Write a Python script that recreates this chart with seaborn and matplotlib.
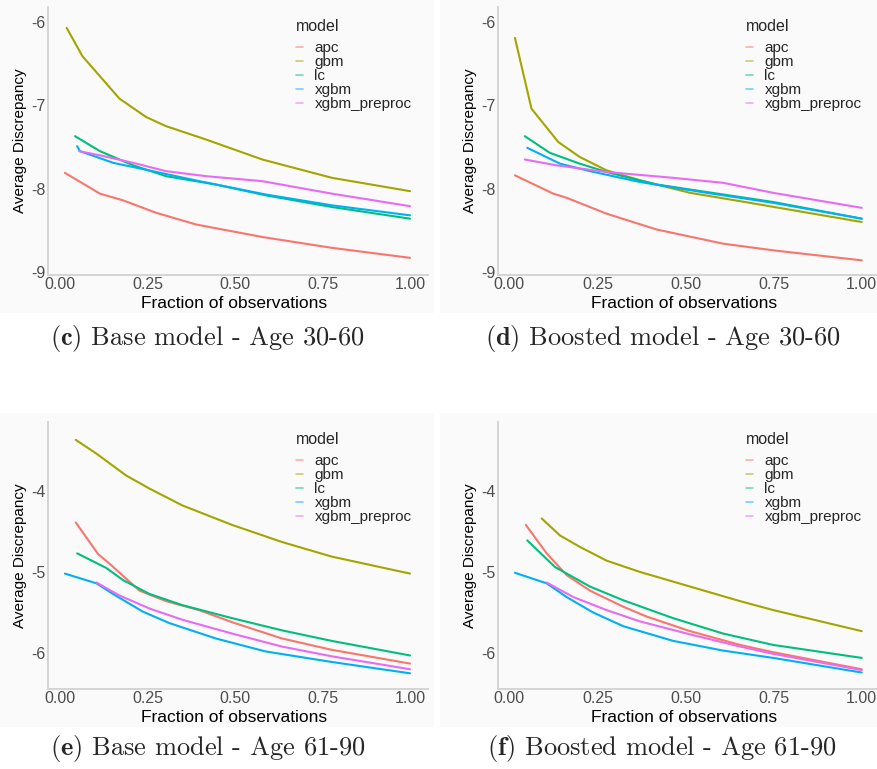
import matplotlib
matplotlib.use("Agg")
import matplotlib.pyplot as plt
from matplotlib.patches import Rectangle
import pandas as pd
import seaborn as sns

# ---------------- data ----------------
MODELS = ["apc", "gbm", "lc", "xgbm", "xgbm_preproc"]
COLORS = ["#F8766D", "#A3A500", "#00BF7D", "#00B0F6", "#E76BF3"]
X_TICKS = [0.0, 0.25, 0.5, 0.75, 1.0]
X_TICK_LABELS = ["0.00", "0.25", "0.50", "0.75", "1.00"]
Y_TICKS_30_60 = [-9, -8, -7, -6]
Y_TICKS_61_90 = [-6, -5, -4]
CAPTION_TAGS = ["c", "d", "e", "f"]
CAPTION_TEXTS = ["Base model - Age 30-60", "Boosted model - Age 30-60",
                 "Base model - Age 61-90", "Boosted model - Age 61-90"]
X_LABEL = "Fraction of observations"
Y_LABEL = "Average Discrepancy"
LEGEND_TITLE = "model"

# (c) Base model - Age 30-60
C_X = {
    "apc": [0.014, 0.114, 0.18, 0.275, 0.389, 0.578, 0.777, 1.0],
    "gbm": [0.019, 0.064, 0.17, 0.246, 0.303, 0.417, 0.578, 0.777, 1.0],
    "lc": [0.043, 0.114, 0.209, 0.303, 0.445, 0.588, 0.777, 1.0],
    "xgbm": [0.049, 0.057, 0.152, 0.265, 0.398, 0.588, 0.777, 1.0],
    "xgbm_preproc": [0.055, 0.114, 0.209, 0.303, 0.417, 0.578, 0.777, 1.0],
}
C_Y = {
    "apc": [-7.81, -8.06, -8.14, -8.29, -8.43, -8.58, -8.71, -8.83],
    "gbm": [-6.07, -6.41, -6.92, -7.14, -7.25, -7.41, -7.65, -7.87, -8.03],
    "lc": [-7.37, -7.55, -7.72, -7.85, -7.95, -8.08, -8.22, -8.36],
    "xgbm": [-7.49, -7.55, -7.69, -7.79, -7.91, -8.07, -8.20, -8.32],
    "xgbm_preproc": [-7.55, -7.60, -7.69, -7.79, -7.85, -7.91, -8.06, -8.21],
}

# (d) Boosted model - Age 30-60
D_X = {
    "apc": [0.016, 0.125, 0.163, 0.276, 0.418, 0.607, 0.749, 1.0],
    "gbm": [0.016, 0.063, 0.139, 0.2, 0.276, 0.371, 0.513, 0.655, 1.0],
    "lc": [0.044, 0.115, 0.2, 0.276, 0.418, 0.607, 0.749, 1.0],
    "xgbm": [0.051, 0.144, 0.229, 0.371, 0.56, 0.749, 1.0],
    "xgbm_preproc": [0.044, 0.134, 0.276, 0.465, 0.607, 0.749, 1.0],
}
D_Y = {
    "apc": [-7.84, -8.06, -8.11, -8.30, -8.49, -8.66, -8.74, -8.86],
    "gbm": [-6.19, -7.04, -7.44, -7.62, -7.78, -7.90, -8.05, -8.15, -8.40],
    "lc": [-7.37, -7.57, -7.70, -7.80, -7.95, -8.07, -8.16, -8.36],
    "xgbm": [-7.51, -7.70, -7.79, -7.92, -8.05, -8.17, -8.36],
    "xgbm_preproc": [-7.65, -7.72, -7.80, -7.87, -7.93, -8.05, -8.23],
}

# (e) Base model - Age 61-90
E_X = {
    "apc": [0.045, 0.109, 0.142, 0.227, 0.303, 0.397, 0.492, 0.634, 0.776, 1.0],
    "gbm": [0.045, 0.104, 0.189, 0.255, 0.35, 0.492, 0.634, 0.776, 1.0],
    "lc": [0.049, 0.132, 0.18, 0.255, 0.35, 0.492, 0.634, 0.776, 1.0],
    "xgbm": [0.014, 0.104, 0.151, 0.237, 0.312, 0.445, 0.587, 0.776, 1.0],
    "xgbm_preproc": [0.104, 0.17, 0.255, 0.35, 0.492, 0.634, 0.776, 1.0],
}
E_Y = {
    "apc": [-4.39, -4.78, -4.90, -5.23, -5.36, -5.47, -5.62, -5.82, -5.96, -6.13],
    "gbm": [-3.37, -3.54, -3.81, -3.97, -4.18, -4.42, -4.63, -4.81, -5.02],
    "lc": [-4.77, -4.95, -5.10, -5.27, -5.41, -5.57, -5.72, -5.85, -6.03],
    "xgbm": [-5.02, -5.14, -5.27, -5.49, -5.63, -5.82, -5.98, -6.11, -6.25],
    "xgbm_preproc": [-5.13, -5.29, -5.45, -5.59, -5.76, -5.92, -6.04, -6.20],
}

# (f) Boosted model - Age 61-90
F_X = {
    "apc": [0.047, 0.106, 0.163, 0.229, 0.324, 0.39, 0.513, 0.655, 0.749, 1.0],
    "gbm": [0.092, 0.144, 0.2, 0.276, 0.371, 0.513, 0.655, 0.749, 1.0],
    "lc": [0.051, 0.13, 0.229, 0.324, 0.465, 0.607, 0.749, 1.0],
    "xgbm": [0.016, 0.106, 0.163, 0.238, 0.324, 0.465, 0.607, 0.749, 1.0],
    "xgbm_preproc": [0.106, 0.182, 0.276, 0.371, 0.513, 0.655, 0.749, 1.0],
}
F_Y = {
    "apc": [-4.42, -4.77, -5.04, -5.23, -5.43, -5.55, -5.73, -5.90, -5.99, -6.20],
    "gbm": [-4.34, -4.55, -4.69, -4.86, -5.00, -5.18, -5.36, -5.47, -5.73],
    "lc": [-4.61, -4.94, -5.18, -5.35, -5.57, -5.76, -5.90, -6.06],
    "xgbm": [-5.01, -5.14, -5.31, -5.50, -5.67, -5.85, -5.97, -6.06, -6.24],
    "xgbm_preproc": [-5.13, -5.31, -5.47, -5.61, -5.77, -5.92, -6.01, -6.21],
}

# ---------------- style ----------------
sns.set_theme(style="white")
plt.rcParams["font.family"] = ["Liberation Sans", "DejaVu Sans"]
plt.rcParams["axes.unicode_minus"] = False
plt.rcParams["mathtext.fontset"] = "cm"

W, H = 877, 769
fig = plt.figure(figsize=(W / 100, H / 100), dpi=100)
fig.patch.set_facecolor("white")

PANEL_BG = "#FAFAFA"
AXIS_COL = "#D4D4D4"
TICK_COL = "#4D4D4D"
palette = dict(zip(MODELS, COLORS))


def long_frame(xd, yd):
    rows = []
    for m in MODELS:
        for x, y in zip(xd[m], yd[m]):
            rows.append({"x": x, "y": y, "model": m})
    return pd.DataFrame(rows)


def px_axes(left, top, right, bottom):
    return fig.add_axes([left / W, 1 - bottom / H, (right - left) / W, (bottom - top) / H])


panels = [
    # data, axes box (px), bg box (px), xlim, ylim, yticks, legend anchor px, caption pos px
    (C_X, C_Y, (48, 7, 428, 275), (0, 0, 434, 313), (-0.0343, 1.0514), (-9.036, -5.82),
     Y_TICKS_30_60, (296, 19), (50, 338)),
    (D_X, D_Y, (498, 7, 877, 275), (440, 0, 877, 313), (-0.032, 1.0434), (-9.036, -5.82),
     Y_TICKS_30_60, (746, 19), (485, 338)),
    (E_X, E_Y, (48, 422, 428, 689), (0, 413, 434, 727), (-0.0343, 1.0514), (-6.4436, -3.150),
     Y_TICKS_61_90, (296, 432), (50, 748)),
    (F_X, F_Y, (498, 422, 877, 689), (440, 413, 877, 727), (-0.032, 1.0434), (-6.4436, -3.150),
     Y_TICKS_61_90, (746, 432), (487, 748)),
]

for i, (xd, yd, box, bg, xlim, ylim, yticks, leg, cap) in enumerate(panels):
    fig.add_artist(Rectangle((bg[0] / W, 1 - bg[3] / H), (bg[2] - bg[0]) / W, (bg[3] - bg[1]) / H,
                             transform=fig.transFigure, facecolor=PANEL_BG, edgecolor="none",
                             zorder=-5))
    ax = px_axes(*box)
    ax.set_facecolor(PANEL_BG)
    df = long_frame(xd, yd)
    sns.lineplot(data=df, x="x", y="y", hue="model", hue_order=MODELS, palette=palette,
                 estimator=None, sort=True, linewidth=1.5, ax=ax)
    ax.set_xlim(*xlim)
    ax.set_ylim(*ylim)
    ax.set_xticks(X_TICKS)
    ax.set_xticklabels(X_TICK_LABELS)
    ax.set_yticks(yticks)
    ax.set_yticklabels([str(t) for t in yticks])
    ax.tick_params(axis="both", length=0, labelsize=11.5, colors=TICK_COL, pad=1.5)
    for s in ["top", "right"]:
        ax.spines[s].set_visible(False)
    for s in ["left", "bottom"]:
        ax.spines[s].set_color(AXIS_COL)
        ax.spines[s].set_linewidth(1.4)
    axw = box[2] - box[0]
    axh = box[3] - box[1]
    ax.set_xlabel(X_LABEL, fontsize=12.5, color="black")
    ax.set_ylabel(Y_LABEL, fontsize=11, color="black")
    ax.xaxis.set_label_coords(0.49, -(296 - 275) / axh)
    ax.yaxis.set_label_coords(-21 / axw, 0.5)

    handles, labels = ax.get_legend_handles_labels()
    lg = ax.legend(handles, labels, title=LEGEND_TITLE, loc="upper left",
                   bbox_to_anchor=(leg[0] / W, 1 - leg[1] / H), bbox_transform=fig.transFigure,
                   frameon=False, fontsize=11, title_fontsize=11.5, handlelength=0.45,
                   handletextpad=0.75, labelspacing=0.0, borderpad=0, borderaxespad=0,
                   alignment="left")
    lg._legend_box.sep = 5
    for h in lg.legend_handles:
        h.set_alpha(0.55)
        h.set_linewidth(1.2)

    fig.text(cap[0] / W, 1 - cap[1] / H,
             r"$\mathbf{(" + CAPTION_TAGS[i] + r")}$" + " " + CAPTION_TEXTS[i],
             family="cmr10", fontsize=19, ha="left", va="center")

fig.savefig("out.png", dpi=100, facecolor="white")
